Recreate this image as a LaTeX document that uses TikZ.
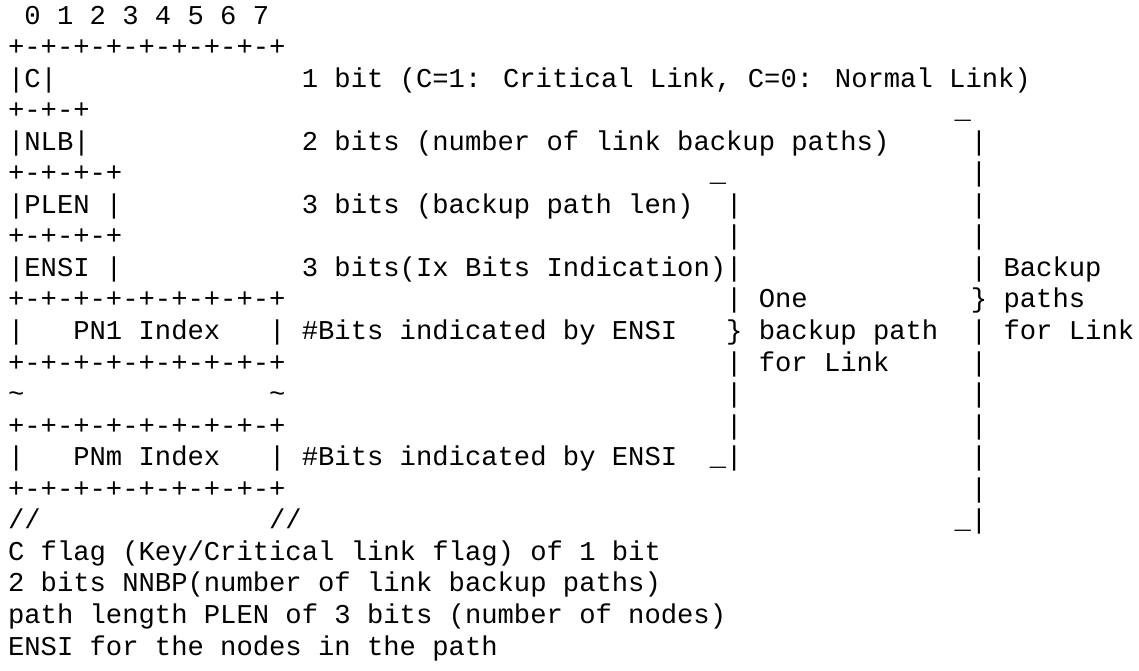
\documentclass[tikz,border=0pt]{standalone}
\usepackage{fontspec}
\newfontfamily\asciimono{Liberation Mono}

\begin{document}
\begin{tikzpicture}[x=16.32pt, y=31.55pt]
  \tikzstyle{txt}=[inner sep=0pt, anchor=base west, font=\asciimono\fontsize{27.2pt}{31.55pt}\selectfont]
  \useasboundingbox (-0.481,0.761) rectangle (69.31,-20.475);

  % Cabecera de bits
  \node[txt] (bitnums) at (1,0) {0 1 2 3 4 5 6 7};
  \node[txt] (top) at (0,-1) {+-+-+-+-+-+-+-+-+};

  % Campos C, NLB, PLEN, ENSI
  \node[txt] (cfield) at (0,-2) {|C|};
  \node[txt] (cdesc) at (18,-2) {1 bit (C=1: Critical Link, C=0: Normal Link)};
  \node[txt] (csep) at (0,-3) {+-+-+};
  \node[txt] (btop) at (58,-3) {\_};
  \node[txt] (nlbfield) at (0,-4) {|NLB|};
  \node[txt] (nlbdesc) at (18,-4) {2 bits (number of link backup paths)};
  \node[txt] (b4) at (59,-4) {|};
  \node[txt] (nlbsep) at (0,-5) {+-+-+-+};
  \node[txt] (atop) at (43,-5) {\_};
  \node[txt] (b5) at (59,-5) {|};
  \node[txt] (plenfield) at (0,-6) {|PLEN |};
  \node[txt] (plendesc) at (18,-6) {3 bits (backup path len)};
  \node[txt] (a6) at (44,-6) {|};
  \node[txt] (b6) at (59,-6) {|};
  \node[txt] (plensep) at (0,-7) {+-+-+-+};
  \node[txt] (a7) at (44,-7) {|};
  \node[txt] (b7) at (59,-7) {|};
  \node[txt] (ensifield) at (0,-8) {|ENSI |};
  \node[txt] (ensidesc) at (18,-8) {3 bits(Ix Bits Indication)|};
  \node[txt] (b8) at (59,-8) {|};
  \node[txt] (blab1) at (61,-8) {Backup};
  \node[txt] (ensisep) at (0,-9) {+-+-+-+-+-+-+-+-+};
  \node[txt] (a9) at (44,-9) {|};
  \node[txt] (alab1) at (46,-9) {One};
  \node[txt] (bbrace) at (59,-9) {\}};
  \node[txt] (blab2) at (61,-9) {paths};

  % Indices PN1 .. PNm
  \node[txt] (pn1l) at (0,-10) {|};
  \node[txt] (pn1) at (4,-10) {PN1 Index};
  \node[txt] (pn1r) at (16,-10) {|};
  \node[txt] (pn1desc) at (18,-10) {\#Bits indicated by ENSI};
  \node[txt] (abrace) at (44,-10) {\}};
  \node[txt] (alab2) at (46,-10) {backup path};
  \node[txt] (b10) at (59,-10) {|};
  \node[txt] (blab3) at (61,-10) {for Link};
  \node[txt] (pn1sep) at (0,-11) {+-+-+-+-+-+-+-+-+};
  \node[txt] (a11) at (44,-11) {|};
  \node[txt] (alab3) at (46,-11) {for Link};
  \node[txt] (b11) at (59,-11) {|};
  \node[txt] (tildel) at (0,-12) {\textasciitilde};
  \node[txt] (tilder) at (16,-12) {\textasciitilde};
  \node[txt] (a12) at (44,-12) {|};
  \node[txt] (b12) at (59,-12) {|};
  \node[txt] (pnmtop) at (0,-13) {+-+-+-+-+-+-+-+-+};
  \node[txt] (a13) at (44,-13) {|};
  \node[txt] (b13) at (59,-13) {|};
  \node[txt] (pnml) at (0,-14) {|};
  \node[txt] (pnm) at (4,-14) {PNm Index};
  \node[txt] (pnmr) at (16,-14) {|};
  \node[txt] (pnmdesc) at (18,-14) {\#Bits indicated by ENSI};
  \node[txt] (aend) at (43,-14) {\_|};
  \node[txt] (b14) at (59,-14) {|};
  \node[txt] (pnmsep) at (0,-15) {+-+-+-+-+-+-+-+-+};
  \node[txt] (b15) at (59,-15) {|};
  \node[txt] (slashl) at (0,-16) {//};
  \node[txt] (slashr) at (16,-16) {//};
  \node[txt] (bend) at (58,-16) {\_|};

  % Notas
  \node[txt] (note1) at (0,-17) {C flag (Key/Critical link flag) of 1 bit};
  \node[txt] (note2) at (0,-18) {2 bits NNBP(number of link backup paths)};
  \node[txt] (note3) at (0,-19) {path length PLEN of 3 bits (number of nodes)};
  \node[txt] (note4) at (0,-20) {ENSI for the nodes in the path};
\end{tikzpicture}
\end{document}
